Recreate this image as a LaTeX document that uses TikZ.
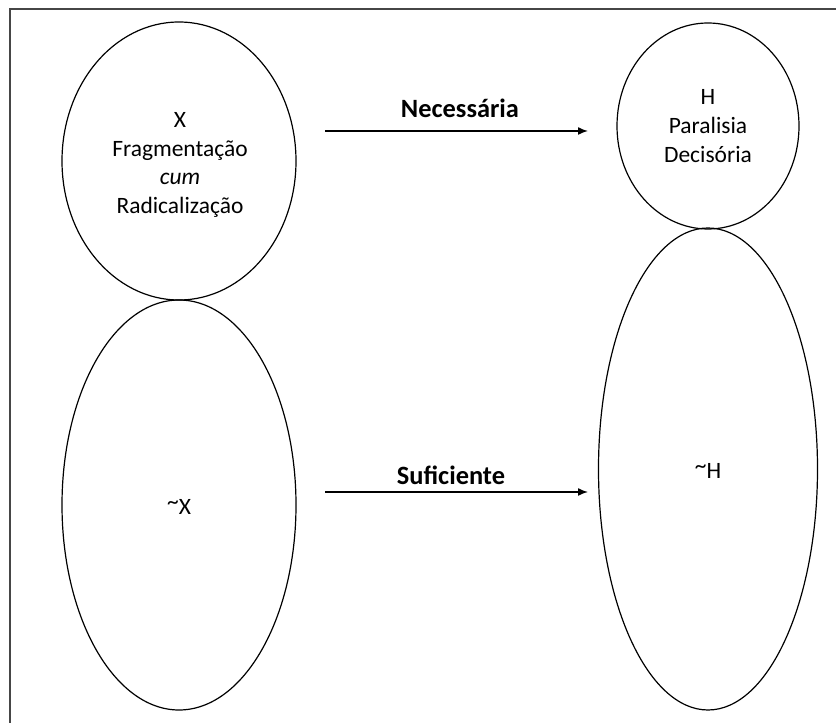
\documentclass[tikz,border=0pt]{standalone}
\usepackage{fontspec}
\setmainfont{Carlito}
\usepackage{tikz}
\usetikzlibrary{
  arrows.meta,
  positioning,
  shapes.geometric
}
\definecolor{framegray}{RGB}{70,70,70}
\newcommand{\nt}{\raisebox{0.22em}{\textasciitilde}}

\begin{document}
\begin{tikzpicture}[
  x=0.75pt, y=-0.75pt,
  set/.style={draw, ellipse, line width=0.9pt, inner sep=0pt, outer sep=0pt},
  txt/.style={align=center, inner sep=0pt, font=\fontsize{17.6}{21.5}\selectfont},
  lbl/.style={font=\fontsize{19.8}{24}\selectfont\bfseries, inner sep=0pt, anchor=base},
  arr/.style={-{Latex[length=7.5pt, width=6pt]}, line width=1.1pt},
  frame/.style={draw=framegray, line width=1.3pt}
]
\useasboundingbox (0,0) rectangle (836,723);

\draw[frame] (836,9) -- (10,9) -- (10,723);

\node[set, minimum width=175.5pt, minimum height=208.5pt] (x) at (179,161) {};
\node[set, minimum width=175.5pt, minimum height=307.5pt] (notx) at (179,505) {};
\node[set, minimum width=136.5pt, minimum height=154.5pt] (h) at (708,126) {};
\node[set, minimum width=164.25pt, minimum height=361.5pt] (noth) at (708,469) {};

\node[txt] (xtxt) at (180,165) {X\\Fragmentação\\\textit{cum}\\Radicalização};
\node[txt] (notxtxt) at (179,507) {\nt X};
\node[txt] (htxt) at (708,126) {H\\Paralisia\\Decisória};
\node[txt] (nothtxt) at (708,471) {\nt H};

\coordinate (nec0) at (325,131);
\coordinate (nec1) at (588,131);
\coordinate (suf0) at (325,492);
\coordinate (suf1) at (588,492);

\draw[arr] (nec0) -- (nec1);
\draw[arr] (suf0) -- (suf1);

\node[lbl] (nec) at (460,118) {Necessária};
\node[lbl] (suf) at (451,485) {Suficiente};

\end{tikzpicture}
\end{document}
